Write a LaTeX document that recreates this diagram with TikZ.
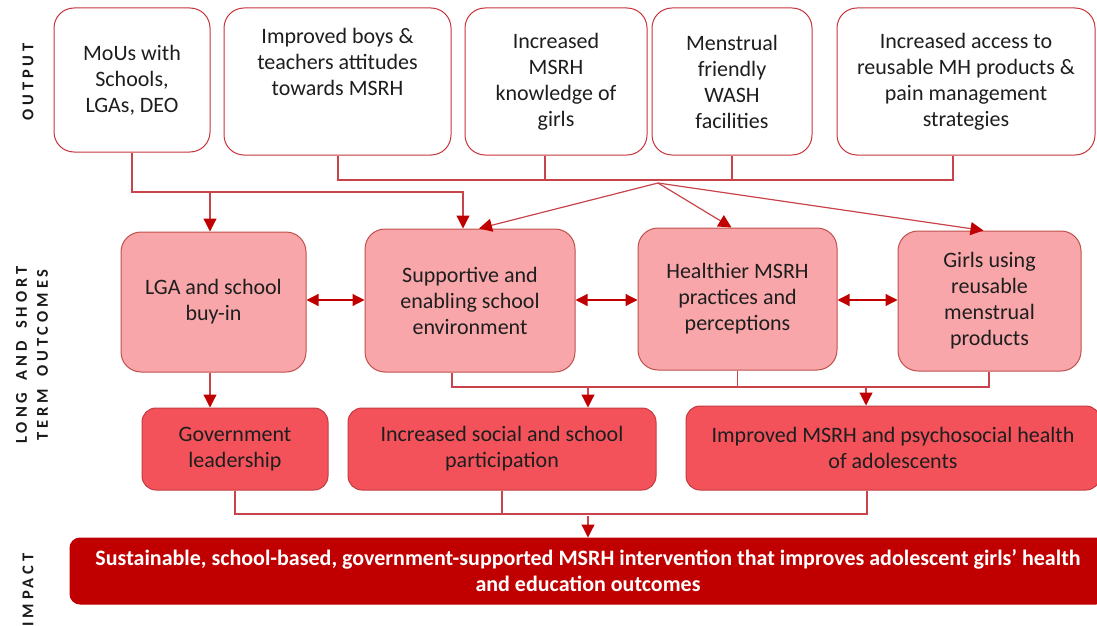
\documentclass[tikz,border=0pt]{standalone}
\usepackage{fontspec}
\setmainfont{Carlito}
\newfontfamily\lblfont[LetterSpace=24,WordSpace=1.6]{Carlito}
\usetikzlibrary{arrows.meta}
\definecolor{bordred}{HTML}{C8343C}
\definecolor{linered}{HTML}{C8444A}
\definecolor{arrred}{HTML}{C00000}
\definecolor{pinkfill}{HTML}{F8A6A9}
\definecolor{pinkbord}{HTML}{C0504D}
\definecolor{redfill}{HTML}{F4525A}
\definecolor{redbord}{HTML}{C23B42}
\definecolor{impfill}{HTML}{C00000}
\definecolor{txt}{HTML}{1E1E1E}
\begin{document}
\begin{tikzpicture}[x=1pt,y=-1pt,
  every node/.style={inner sep=0pt, align=center, font=\fontsize{22}{26}\selectfont, text=txt},
  obox/.style={draw=bordred, line width=1pt, fill=white, rounded corners=20pt},
  mbox/.style={draw=pinkbord, line width=1pt, fill=pinkfill, rounded corners=20pt},
  bbox/.style={draw=redbord, line width=1pt, fill=redfill, rounded corners=14pt},
  ibox/.style={draw=impfill, line width=1pt, fill=impfill, rounded corners=10pt, text=white, font=\fontsize{22}{26}\selectfont\bfseries},
  conn/.style={draw=linered, line width=1.2pt},
  arr/.style={conn, -{Triangle[width=13pt,length=13pt,color=arrred]}},
  darr/.style={draw=arrred, line width=1.2pt, {Triangle[width=12pt,length=12pt,color=arrred]}-{Triangle[width=12pt,length=12pt,color=arrred]}},
  lbl/.style={rotate=90, text=black!90, font=\fontsize{16.5}{21}\selectfont\lblfont\bfseries}
]
\useasboundingbox (0,0) rectangle (1097,626);

% left labels
\node[lbl] (lout) at (28,82) {OUTPUT};
\node[lbl] (llong) at (32,355) {LONG AND SHORT\\TERM OUTCOMES};
\node[lbl] (limp) at (28,590) {IMPACT};

% output row
\node[obox, minimum width=156pt, minimum height=144pt] (o1) at (132,80) {MoUs with\\Schools,\\LGAs, DEO};
\node[obox, minimum width=227pt, minimum height=147pt] (o2) at (337.5,81.5) {};
\node (o2t) at (337.5,62) {Improved boys \&\\teachers attitudes\\towards MSRH};
\node[obox, minimum width=182pt, minimum height=147pt] (o3) at (556,81.5) {Increased\\MSRH\\knowledge of\\girls};
\node[obox, minimum width=160pt, minimum height=147pt] (o4) at (732,81.5) {Menstrual\\friendly\\WASH\\facilities};
\node[obox, minimum width=258pt, minimum height=147pt] (o5) at (966,81.5) {Increased access to\\reusable MH products \&\\pain management\\strategies};

% middle row
\node[mbox, minimum width=185pt, minimum height=140pt] (m1) at (213.5,302) {LGA and school\\buy-in};
\node[mbox, minimum width=210pt, minimum height=143pt] (m2) at (470,300.5) {Supportive and\\enabling school\\environment};
\node[mbox, minimum width=199pt, minimum height=142pt] (m3) at (737.5,299) {Healthier MSRH\\practices and\\perceptions};
\node[mbox, minimum width=183pt, minimum height=140pt] (m4) at (989.5,301) {Girls using\\reusable\\menstrual\\products};

% bottom row
\node[bbox, minimum width=186pt, minimum height=82pt] (b1) at (235,449) {Government\\leadership};
\node[bbox, minimum width=308pt, minimum height=82pt] (b2) at (502,449) {Increased social and school\\participation};
\node[bbox, minimum width=414pt, minimum height=84pt] (b3) at (893,448) {Improved MSRH and psychosocial health\\of adolescents};

% impact
\node[ibox, minimum width=1036pt, minimum height=66pt] (imp) at (588,571) {Sustainable, school-based, government-supported MSRH intervention that improves adolescent girls’ health\\and education outcomes};

% connectors: output -> outcomes
\coordinate (j1) at (210,192);
\coordinate (j2) at (463,192);
\draw[conn] (o1.south) |- (j1);
\draw[arr] (j1) -- (j1 |- m1.north);
\draw[arr] (j1) -- (j2) -- (j2 |- m2.north);

\coordinate (busL) at (338,180);
\coordinate (busA) at (545,180);
\coordinate (busR) at (953,180);
\coordinate (fan) at (658,183);
\draw[conn] (o2.south -| busL) -- (busL) -- (busR) -- (busR |- o5.south);
\draw[conn] (busA) -- (busA |- o3.south);
\draw[conn] (o4.south) -- (o4.south |- busL);
\draw[arr] (fan) -- ([xshift=9pt]m2.north);
\draw[arr] (fan) -- ([xshift=-6pt]m3.north);
\draw[arr] (fan) -- ([xshift=-6pt]m4.north);

% double arrows
\draw[darr] (m1.east |- 0,300) -- (m2.west |- 0,300);
\draw[darr] (m2.east |- 0,300) -- (m3.west |- 0,300);
\draw[darr] (m3.east |- 0,300) -- (m4.west |- 0,300);

% outcomes -> bottom
\draw[arr] (m1.south -| j1) -- (b1.north -| j1);
\coordinate (mb1) at (452,387);
\coordinate (mb2) at (989,387);
\coordinate (a1) at (588,387);
\coordinate (a2) at (866,387);
\draw[conn] (m2.south -| mb1) -- (mb1) -- (mb2) -- (m4.south -| mb2);
\draw[conn] (m3.south) -- (m3.south |- mb1);
\draw[arr] (a1) -- (a1 |- b2.north);
\draw[arr] (a2) -- (a2 |- b3.north);

% bottom -> impact
\coordinate (bb1) at (235,514);
\coordinate (bb2) at (867,514);
\coordinate (a3) at (588,516);
\draw[conn] (b1.south) -- (bb1) -- (bb2) -- (b3.south -| bb2);
\draw[conn] (b2.south) -- (b2.south |- bb1);
\draw[arr] (a3) -- (a3 |- imp.north);
\end{tikzpicture}
\end{document}
